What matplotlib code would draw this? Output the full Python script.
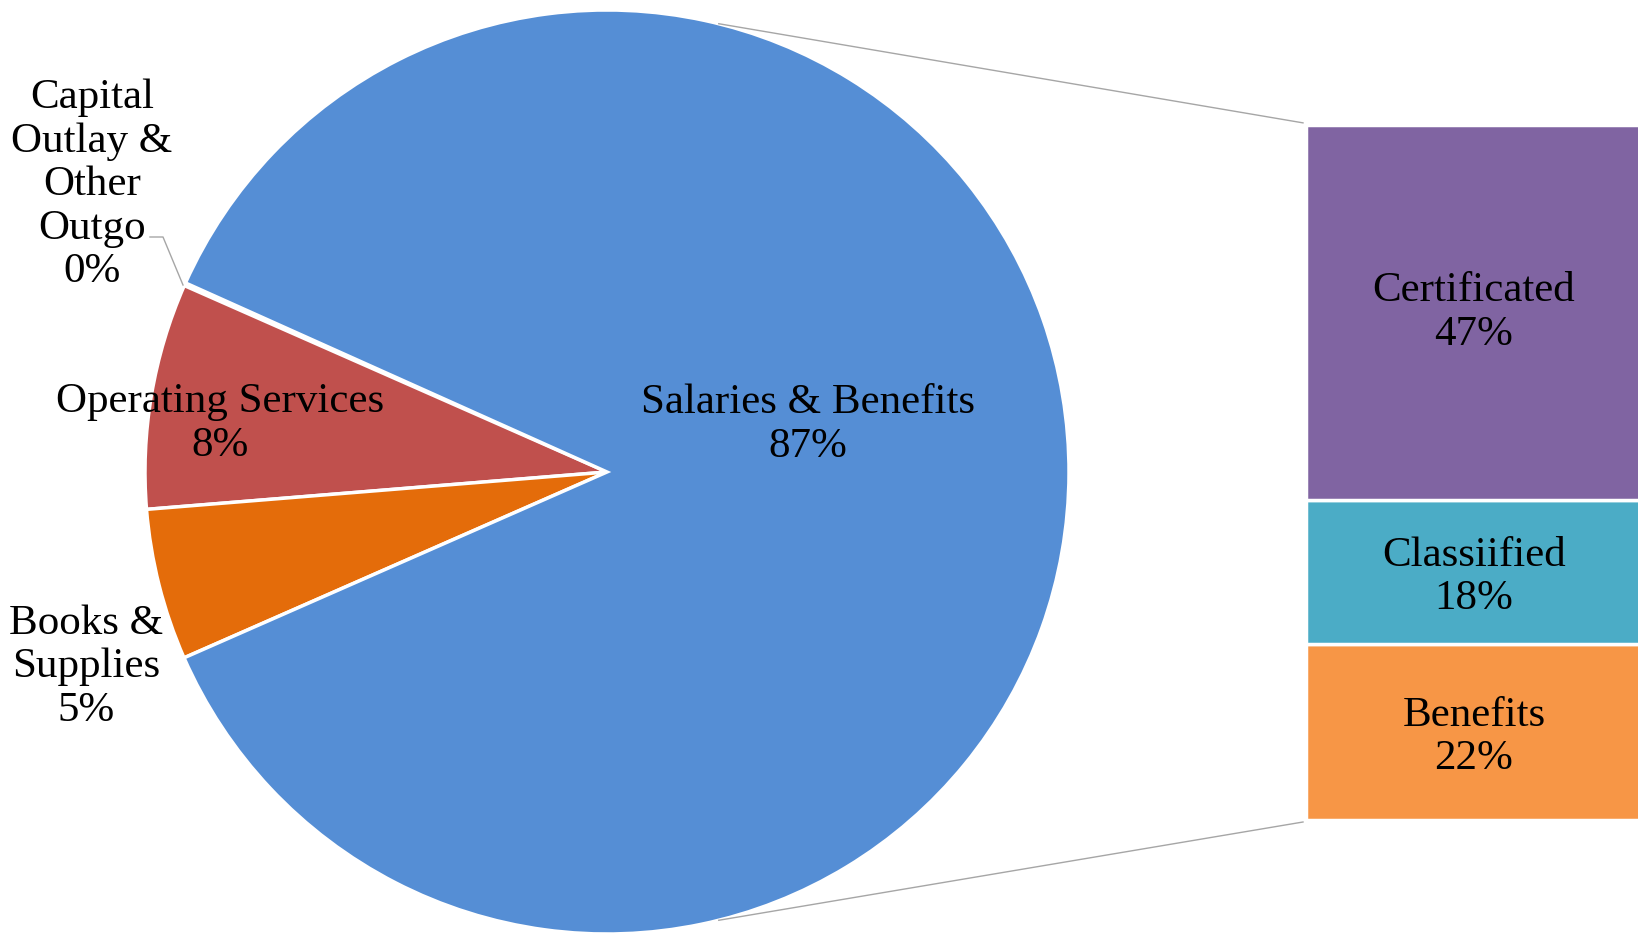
import numpy as np
import matplotlib
matplotlib.use("Agg")
import matplotlib.pyplot as plt

# --- data ---
pie_labels = ["Capital\nOutlay &\nOther\nOutgo", "Operating Services", "Books &\nSupplies", "Salaries & Benefits"]
pie_values = [0.1, 7.9, 5.3, 86.7]
pie_colors = ["#9BBB59", "#C0504D", "#E46C0A", "#558ED5"]

bar_labels = ["Benefits", "Classiified", "Certificated"]
bar_values = [22, 18, 47]
bar_colors = ["#F79646", "#4BACC6", "#8064A2"]

plt.rcParams['font.family'] = ['Liberation Serif', 'DejaVu Serif']
FS = 31
LS = 1.17

W, H = 1638, 933
fig = plt.figure(figsize=(W / 100, H / 100), dpi=100)
ax = fig.add_axes([0, 0, 1, 1])

# --- pie (pixel-based coordinates, y up) ---
cx, cy, r = 607, 461, 462
start = 156.2 - pie_values[0] / 100 * 360
ax.pie(pie_values, colors=pie_colors, startangle=start, counterclock=True,
       center=(cx, cy), radius=r,
       wedgeprops=dict(edgecolor="white", linewidth=2.5))

# --- bar of the "Salaries & Benefits" split ---
bar_x, bar_y0, scale = 1306, 113, 7.99
label_dy = [-5, -5, 0]
bottom = bar_y0
for lab, v, c, dy in zip(bar_labels, bar_values, bar_colors, label_dy):
    ax.bar(bar_x, v * scale, bottom=bottom, width=400, align="edge",
           color=c, edgecolor="white", linewidth=2.5)
    ax.text(bar_x + 168, bottom + v * scale / 2 + dy, f"{lab}\n{v}%", ha="center",
            va="center", fontsize=FS, linespacing=LS)
    bottom += v * scale
bar_top = bottom

# --- connector lines ---
for ang, yb in [(76, bar_top + 2), (-76, bar_y0 - 2)]:
    a = np.deg2rad(ang)
    ax.plot([cx + r * np.cos(a), bar_x - 3], [cy + r * np.sin(a), yb],
            color="#A6A6A6", lw=1.0)

# --- pie labels ---
label_pos = [(92, 748), (220, 509), (86, 266), (808, 508)]
for lab, v, (x, y) in zip(pie_labels, pie_values, label_pos):
    ax.text(x, y, f"{lab}\n{v:.0f}%", ha="center", va="center",
            fontsize=FS, linespacing=LS)

# leader line for the 0% slice
ax.plot([150, 163, 183], [696, 696, 648], color="#A6A6A6", lw=1.0)

ax.set_xlim(0, W)
ax.set_ylim(0, H)
ax.set_aspect("equal")
ax.axis("off")

fig.savefig("out.png", dpi=100, facecolor="white")
